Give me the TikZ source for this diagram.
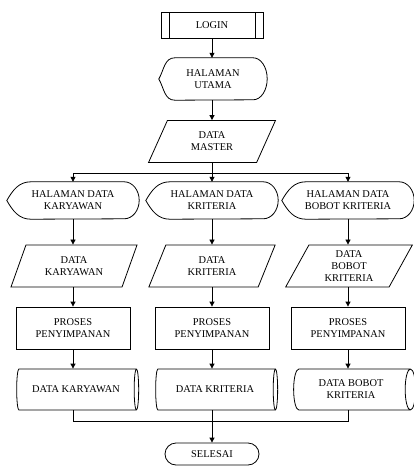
\documentclass[tikz,border=0pt]{standalone}
\usepackage{fontspec}
\setmainfont{Liberation Serif}
\usetikzlibrary{shapes.geometric,shapes.misc,arrows.meta,calc}

\tikzset{
  txt/.style={align=center, font=\fontsize{10.4}{12}\selectfont},
  base/.style={txt, draw, line width=0.8pt, inner sep=1pt},
  predef/.style={base, rectangle, minimum width=102pt, minimum height=26pt,
    path picture={
      \draw[line width=0.8pt] ([xshift=8pt]path picture bounding box.north west) -- ([xshift=8pt]path picture bounding box.south west);
      \draw[line width=0.8pt] ([xshift=-8pt]path picture bounding box.north east) -- ([xshift=-8pt]path picture bounding box.south east);}},
  dispbox/.style={txt, rectangle, inner sep=0pt},
  iobox/.style={base, trapezium, trapezium left angle=66, trapezium right angle=114,
    trapezium stretches=true, minimum width=127pt, minimum height=42pt},
  procbox/.style={base, rectangle, minimum width=114pt, minimum height=42pt},
  % the cylinder takes its sizes along its own axis, hence the swap
  store/.style={base, cylinder, shape aspect=0.5, minimum width=41pt, minimum height=122pt},
  term/.style={base, rounded rectangle, minimum width=96pt, minimum height=22pt},
  flow/.style={line width=0.8pt, -{Triangle[length=5pt,width=5pt]}},
  link/.style={line width=0.8pt},
}

% display symbol: pointed left end, elliptic right end
% #1 node, #2 inset of the top edge, #3 radius of the right arc, #4 half height
\newcommand\dispoutline[4]{%
  \draw[line width=0.8pt] (#1.west) to[out=60,in=180] ([xshift=#2]#1.north west)
    -- ([xshift=-#3]#1.north east)
    arc[start angle=90, end angle=-90, x radius=#3, y radius=#4]
    -- ([xshift=#2]#1.south west) to[out=180,in=-60] (#1.west) -- cycle;}

\begin{document}
\begin{tikzpicture}[x=1pt, y=1pt]
  \useasboundingbox (0,0) rectangle (414,-466);

  % start
  \node[predef] (login) at (212,-25) {LOGIN};
  \node[dispbox, minimum width=108pt, minimum height=42pt] (home) at (213,-79) {HALAMAN\\UTAMA};
  \dispoutline{home}{16pt}{14pt}{21pt}
  \node[iobox] (master) at (212,-141.5) {DATA\\MASTER};

  % three menu pages
  \node[dispbox, minimum width=132pt, minimum height=37pt] (pgA) at (73,-200.5) {HALAMAN DATA\\KARYAWAN};
  \node[dispbox, minimum width=132pt, minimum height=37pt] (pgB) at (212,-200.5) {HALAMAN DATA\\KRITERIA};
  \node[dispbox, minimum width=132pt, minimum height=37pt] (pgC) at (348,-200.5) {HALAMAN DATA\\BOBOT KRITERIA};
  \dispoutline{pgA}{24pt}{15pt}{18.5pt}
  \dispoutline{pgB}{24pt}{15pt}{18.5pt}
  \dispoutline{pgC}{24pt}{15pt}{18.5pt}

  % inputs
  \node[iobox] (inA) at (74,-266) {DATA\\KARYAWAN};
  \node[iobox] (inB) at (212,-266) {DATA\\KRITERIA};
  \node[iobox] (inC) at (349,-266) {DATA\\BOBOT\\KRITERIA};

  % processing
  \node[procbox] (prA) at (73,-328) {PROSES\\PENYIMPANAN};
  \node[procbox] (prB) at (212,-328) {PROSES\\PENYIMPANAN};
  \node[procbox] (prC) at (348,-328) {PROSES\\PENYIMPANAN};

  % storage
  \node[store] (dbA) at (76,-389.5) {DATA KARYAWAN};
  \node[store] (dbB) at (215,-389.5) {DATA KRITERIA};
  \node[store] (dbC) at (351,-389.5) {DATA BOBOT\\KRITERIA};

  % end
  \node[term] (done) at (212,-454) {SELESAI};

  % connectors
  \coordinate (split) at (212,-173);
  \coordinate (merge) at (212,-421.5);
  \draw[flow] (login.south) -- (login.south |- home.north);
  \draw[flow] (home.south -| login.south) -- (login.south |- master.north);
  \draw[flow] (master.south) -- (master.south |- pgB.north);
  \draw[link] (pgA.north |- split) -- (pgC.north |- split);
  \draw[flow] (pgA.north |- split) -- (pgA.north);
  \draw[flow] (pgC.north |- split) -- (pgC.north);

  \draw[flow] (pgA.south) -- (pgA.south |- inA.north);
  \draw[flow] (pgB.south) -- (pgB.south |- inB.north);
  \draw[flow] (pgC.south) -- (pgC.south |- inC.north);

  \draw[flow] (prA.north |- inA.south) -- (prA.north);
  \draw[flow] (prB.north |- inB.south) -- (prB.north);
  \draw[flow] (prC.north |- inC.south) -- (prC.north);

  \draw[flow] (prA.south) -- (prA.south |- dbA.north);
  \draw[flow] (prB.south) -- (prB.south |- dbB.north);
  \draw[flow] (prC.south) -- (prC.south |- dbC.north);

  \draw[link] (prA.south |- dbA.south) -- (prA.south |- merge) -- (prC.south |- merge) -- (prC.south |- dbC.south);
  \draw[flow] (prB.south |- dbB.south) -- (done.north);
\end{tikzpicture}
\end{document}
